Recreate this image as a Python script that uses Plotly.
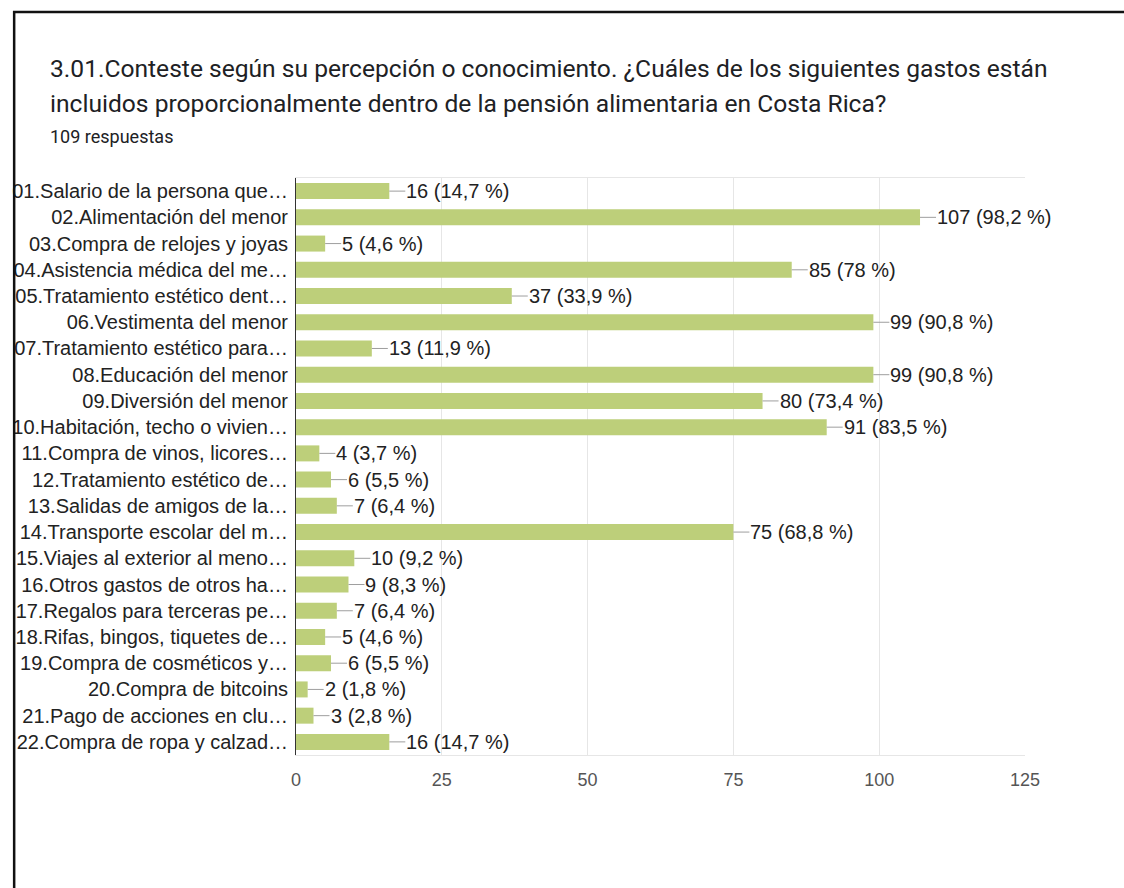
"""Horizontal bar chart: gastos incluidos en la pensión alimentaria."""
import plotly.graph_objects as go

categories = [
    "01.Salario de la persona que…",
    "02.Alimentación del menor",
    "03.Compra de relojes y joyas",
    "04.Asistencia médica del me…",
    "05.Tratamiento estético dent…",
    "06.Vestimenta del menor",
    "07.Tratamiento estético para…",
    "08.Educación del menor",
    "09.Diversión del menor",
    "10.Habitación, techo o vivien…",
    "11.Compra de vinos, licores…",
    "12.Tratamiento estético de…",
    "13.Salidas de amigos de la…",
    "14.Transporte escolar del m…",
    "15.Viajes al exterior al meno…",
    "16.Otros gastos de otros ha…",
    "17.Regalos para terceras pe…",
    "18.Rifas, bingos, tiquetes de…",
    "19.Compra de cosméticos y…",
    "20.Compra de bitcoins",
    "21.Pago de acciones en clu…",
    "22.Compra de ropa y calzad…",
]
counts = [16, 107, 5, 85, 37, 99, 13, 99, 80, 91, 4, 6, 7, 75, 10, 9, 7, 5, 6, 2, 3, 16]
percents = ["14,7", "98,2", "4,6", "78", "33,9", "90,8", "11,9", "90,8", "73,4", "83,5",
            "3,7", "5,5", "6,4", "68,8", "9,2", "8,3", "6,4", "4,6", "5,5", "1,8", "2,8", "14,7"]
x_ticks = [0, 25, 50, 75, 100, 125]

BAR_COLOR = "#bdcf7a"
FONT = "Liberation Sans, Arial, sans-serif"

# plot area in pixels (left, right, top, bottom)
L, R, T, B = 293, 1025, 178, 755
W, H = 1124, 888


def px_x(p):
    return (p - L) / (R - L)


def px_y(p):
    return (B - p) / (B - T)


fig = go.Figure(go.Bar(
    x=counts, y=categories, orientation="h",
    marker=dict(color=BAR_COLOR, line=dict(width=0)),
    width=0.61, hoverinfo="x+y",
))

for cat, n, pct in zip(categories, counts, percents):
    fig.add_annotation(
        x=n, y=cat, xref="x", yref="y",
        text=f"{n} ({pct} %)", showarrow=True,
        ax=16, ay=0, xanchor="left", yanchor="middle",
        arrowhead=0, arrowwidth=1, arrowcolor="#9e9e9e",
        standoff=0, startstandoff=0, borderpad=0,
        font=dict(family=FONT, size=20, color="#222222"),
    )

# title block
fig.add_annotation(
    x=px_x(44), y=px_y(68), xref="paper", yref="paper",
    text="3.01.Conteste según su percepción o conocimiento. ¿Cuáles de los siguientes gastos están",
    showarrow=False, xanchor="left", yanchor="middle",
    font=dict(family="Roboto, sans-serif", size=24.6, color="#202124"),
)
fig.add_annotation(
    x=px_x(44), y=px_y(104), xref="paper", yref="paper",
    text="incluidos proporcionalmente dentro de la pensión alimentaria en Costa Rica?",
    showarrow=False, xanchor="left", yanchor="middle",
    font=dict(family="Roboto, sans-serif", size=24.6, color="#202124"),
)
fig.add_annotation(
    x=px_x(44), y=px_y(137), xref="paper", yref="paper",
    text="109 respuestas",
    showarrow=False, xanchor="left", yanchor="middle",
    font=dict(family="Roboto, sans-serif", size=18, color="#202124"),
)

# outer frame of the screenshot card
fig.add_shape(
    type="rect", xref="paper", yref="paper",
    x0=px_x(10), x1=px_x(W + 20), y0=px_y(H + 20), y1=px_y(12),
    line=dict(color="#111111", width=2.5), fillcolor="rgba(0,0,0,0)",
    layer="above",
)

fig.update_layout(
    width=W, height=H,
    margin=dict(l=L, r=W - R, t=T, b=H - B),
    paper_bgcolor="white", plot_bgcolor="white",
    showlegend=False,
    font=dict(family=FONT, size=20, color="#222222"),
    xaxis=dict(
        range=[0, 125], tickvals=x_ticks, showgrid=True, gridcolor="#e6e6e6",
        gridwidth=1, zeroline=False, showline=True, linecolor="#e6e6e6",
        mirror=True, ticks="", ticklabelstandoff=8,
        tickfont=dict(family=FONT, size=18, color="#555555"),
    ),
    yaxis=dict(
        autorange="reversed", showgrid=False, zeroline=False, showline=True,
        linecolor="#333333", linewidth=1, ticks="", ticklabelstandoff=3,
        tickfont=dict(family=FONT, size=20, color="#222222"),
    ),
)

fig.write_html(
    "out.html",
    config={"displayModeBar": False},
    post_script="document.body.style.margin='0';document.body.style.overflow='hidden';",
)
